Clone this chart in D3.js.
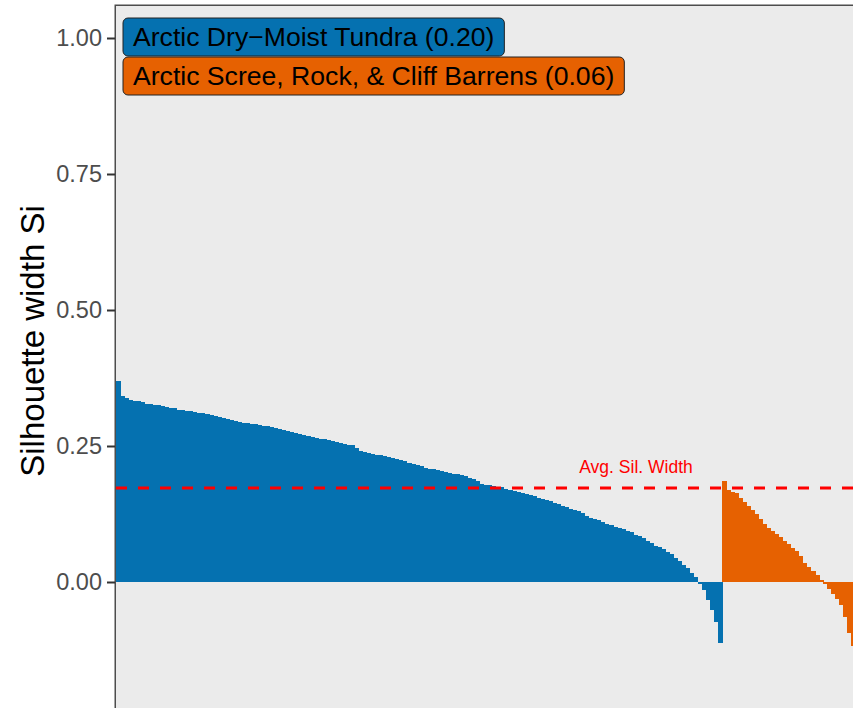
<!DOCTYPE html>
<html>
<head>
<meta charset="utf-8">
<script src="https://cdn.jsdelivr.net/npm/d3@7"></script>
<style>
  html, body { margin: 0; padding: 0; background: #fff; }
  svg { display: block; font-family: Arial, "Liberation Sans", sans-serif; }
</style>
</head>
<body>
<div id="chart"></div>
<script>
"use strict";

// silhouette widths, sorted within each cluster
const tundraSil = [
  0.370, 0.342, 0.338, 0.335, 0.333, 0.332, 0.330, 0.328, 0.327, 0.326,
  0.325, 0.323, 0.322, 0.320, 0.319, 0.317, 0.316, 0.315, 0.314, 0.313,
  0.311, 0.310, 0.308, 0.307, 0.305, 0.303, 0.302, 0.299, 0.298, 0.296,
  0.294, 0.293, 0.292, 0.291, 0.290, 0.288, 0.287, 0.286, 0.285, 0.283,
  0.281, 0.279, 0.278, 0.276, 0.274, 0.272, 0.270, 0.268, 0.266, 0.264,
  0.263, 0.262, 0.261, 0.259, 0.257, 0.255, 0.254, 0.252, 0.251, 0.246,
  0.241, 0.239, 0.238, 0.236, 0.234, 0.233, 0.231, 0.230, 0.228, 0.227,
  0.224, 0.222, 0.219, 0.217, 0.215, 0.213, 0.210, 0.208, 0.207, 0.205,
  0.204, 0.202, 0.200, 0.199, 0.198, 0.196, 0.194, 0.191, 0.189, 0.185,
  0.181, 0.179, 0.178, 0.176, 0.175, 0.174, 0.171, 0.169, 0.167, 0.165,
  0.163, 0.161, 0.160, 0.158, 0.155, 0.153, 0.151, 0.149, 0.146, 0.143,
  0.140, 0.137, 0.134, 0.132, 0.130, 0.127, 0.122, 0.118, 0.116, 0.114,
  0.111, 0.107, 0.105, 0.102, 0.099, 0.097, 0.094, 0.091, 0.087, 0.084,
  0.080, 0.075, 0.071, 0.067, 0.064, 0.060, 0.056, 0.051, 0.044, 0.039,
  0.032, 0.025, 0.016, 0.009, -0.004, -0.015, -0.033, -0.052, -0.074, -0.112
];
const screeSil = [
  0.185, 0.170, 0.166, 0.163, 0.155, 0.147, 0.140, 0.132, 0.125, 0.116,
  0.107, 0.100, 0.094, 0.089, 0.082, 0.076, 0.069, 0.063, 0.057, 0.047,
  0.035, 0.028, 0.020, 0.013, 0.004, -0.004, -0.013, -0.022, -0.031, -0.042,
  -0.064, -0.093, -0.118, -0.140
];

const clusterNames = ["Arctic Dry\u2212Moist Tundra", "Arctic Scree, Rock, & Cliff Barrens"];
const clusterAvg = [0.20, 0.06];
const clusterColors = ["#0571b0", "#e66101"];
const avgSilWidth = 0.173;
const yTicks = [0, 0.25, 0.5, 0.75, 1];

const W = 853, H = 708;
const panel = {left: 116, top: 6, right: 880, bottom: 760};

const bars = [];
tundraSil.forEach(v => bars.push({v: v, c: 0}));
screeSil.forEach(v => bars.push({v: v, c: 1}));

const svg = d3.select("#chart").append("svg").attr("width", W).attr("height", H);

const y = d3.scaleLinear().domain([0, 1]).range([582, 38]);
const barW = 606 / tundraSil.length;
const x = d3.scaleBand().domain(d3.range(bars.length))
  .range([panel.left, panel.left + bars.length * barW]).padding(0);

svg.append("defs").append("clipPath").attr("id", "clip")
  .append("rect").attr("x", panel.left).attr("y", panel.top)
  .attr("width", panel.right - panel.left).attr("height", panel.bottom - panel.top);

svg.append("rect").attr("x", panel.left).attr("y", panel.top)
  .attr("width", panel.right - panel.left).attr("height", panel.bottom - panel.top)
  .attr("fill", "#ebebeb");

const plot = svg.append("g").attr("clip-path", "url(#clip)");

plot.append("g").selectAll("rect").data(bars).enter().append("rect")
  .attr("x", (d, i) => x(i))
  .attr("width", x.bandwidth() + 0.6)
  .attr("y", d => y(Math.max(0, d.v)))
  .attr("height", d => Math.abs(y(d.v) - y(0)))
  .attr("fill", d => clusterColors[d.c])
  .attr("shape-rendering", "crispEdges");

// average silhouette width
plot.append("line")
  .attr("x1", panel.left).attr("x2", panel.right)
  .attr("y1", y(avgSilWidth)).attr("y2", y(avgSilWidth))
  .attr("stroke", "#ff0000").attr("stroke-width", 3)
  .attr("stroke-dasharray", "11,11");
plot.append("text").attr("x", 636).attr("y", y(avgSilWidth) - 15)
  .attr("text-anchor", "middle").attr("fill", "#ff0000")
  .attr("font-size", 17.5).text("Avg. Sil. Width");

// panel border (top + left visible, the rest is off-canvas)
svg.append("rect").attr("x", panel.left - 0.75).attr("y", panel.top - 0.75)
  .attr("width", panel.right - panel.left).attr("height", panel.bottom - panel.top)
  .attr("fill", "none").attr("stroke", "#4d4d4d").attr("stroke-width", 1.5);

// y axis
const yAxis = svg.append("g").attr("transform", "translate(" + (panel.left - 1) + ",0)")
  .call(d3.axisLeft(y).tickValues(yTicks).tickFormat(d3.format(".2f")).tickSize(8).tickPadding(5));
yAxis.select(".domain").remove();
yAxis.selectAll(".tick line").attr("stroke", "#333").attr("stroke-width", 2);
yAxis.selectAll(".tick text").attr("fill", "#4d4d4d").attr("font-size", 23.5)
  .attr("font-family", "Arial, 'Liberation Sans', sans-serif");

svg.append("text")
  .attr("transform", "translate(44,341) rotate(-90)")
  .attr("text-anchor", "middle").attr("fill", "#000")
  .attr("font-size", 33).text("Silhouette width Si");

// legend labels
const legend = svg.append("g");
clusterNames.forEach(function(name, i) {
  const g = legend.append("g").attr("transform", "translate(123," + (18 + i * 39) + ")");
  const t = g.append("text").attr("x", 10).attr("y", 28)
    .attr("font-size", 26.6).attr("fill", "#000")
    .text(name + " (" + clusterAvg[i].toFixed(2) + ")");
  const tw = t.node().getComputedTextLength();
  g.insert("rect", "text").attr("x", 0).attr("y", 0)
    .attr("width", tw + 20).attr("height", 38).attr("rx", 5).attr("ry", 5)
    .attr("fill", clusterColors[i]).attr("stroke", "#222").attr("stroke-width", 1);
});
</script>
</body>
</html>
